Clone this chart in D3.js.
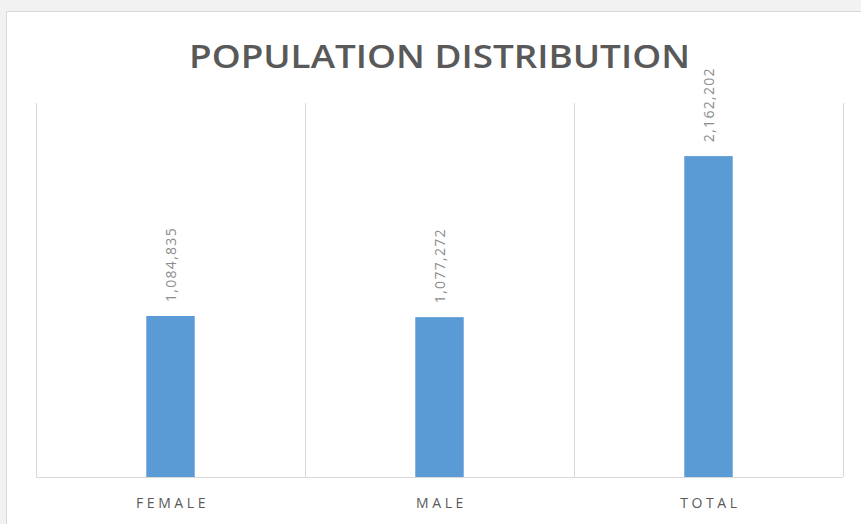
<!DOCTYPE html>
<html>
<head>
<meta charset="utf-8">
<script src="https://cdn.jsdelivr.net/npm/d3@7"></script>
<style>
  body { margin: 0; background: #f2f2f2; }
  svg { display: block; }
</style>
</head>
<body>
<svg width="861" height="524"></svg>
<script>
// data
const categories = ["FEMALE", "MALE", "TOTAL"];
const values = [1084835, 1077272, 2162202];
const title = "POPULATION DISTRIBUTION";

const svg = d3.select("svg");
const W = 861, H = 524;
const plot = { left: 36, right: 843, top: 106, bottom: 477 };

// chart panel
svg.append("rect")
    .attr("x", 6.5).attr("y", 11.5)
    .attr("width", W + 10).attr("height", H + 10)
    .attr("fill", "#fff")
    .attr("stroke", "#d9d9d9");

var x = d3.scaleBand()
    .domain(categories)
    .range([plot.left, plot.right])
    .paddingInner(0.82).paddingOuter(0.41);

var y = d3.scaleLinear()
    .domain([0, 2500000])
    .range([plot.bottom, plot.top]);

// vertical gridlines between categories
let bounds = categories.map(c => x(c) - x.step() * x.paddingInner() / 2);
bounds.push(plot.right);
bounds[0] = plot.left;
svg.selectAll("line.grid").data(bounds).enter()
    .append("line")
    .attr("class", "grid")
    .attr("x1", d => Math.round(d) + 0.5).attr("x2", d => Math.round(d) + 0.5)
    .attr("y1", 103).attr("y2", plot.bottom)
    .attr("stroke", "#d9d9d9");

// bars
svg.selectAll("rect.bar").data(values).enter()
    .append("rect")
    .attr("class", "bar")
    .attr("x", (d, i) => x(categories[i]))
    .attr("width", x.bandwidth())
    .attr("y", d => y(d))
    .attr("height", d => y(0) - y(d))
    .attr("fill", "#5b9bd5");

// baseline
svg.append("line")
    .attr("x1", plot.left).attr("x2", plot.right)
    .attr("y1", plot.bottom + 0.5).attr("y2", plot.bottom + 0.5)
    .attr("stroke", "#d9d9d9");

// value labels, rotated
const fmt = d3.format(",");
svg.selectAll("text.val").data(values).enter()
    .append("text")
    .attr("class", "val")
    .attr("transform", (d, i) => `translate(${x(categories[i]) + x.bandwidth() / 2 + 5},${y(d) - 14}) rotate(-90)`)
    .attr("font-family", "Open Sans, sans-serif")
    .attr("font-size", 14)
    .attr("letter-spacing", 1.3)
    .attr("fill", "#8c8c8c")
    .text(d => fmt(d));

// category labels
svg.selectAll("text.cat").data(categories).enter()
    .append("text")
    .attr("class", "cat")
    .attr("x", d => x(d) + x.bandwidth() / 2 + 2)
    .attr("y", 508)
    .attr("text-anchor", "middle")
    .attr("font-family", "Open Sans, sans-serif")
    .attr("font-size", 14)
    .attr("letter-spacing", 3.6)
    .attr("fill", "#595959")
    .text(d => d);

// title
svg.append("text")
    .attr("x", 189)
    .attr("y", 68)
    .attr("textLength", 501)
    .attr("lengthAdjust", "spacingAndGlyphs")
    .attr("font-family", "Open Sans, sans-serif")
    .attr("font-weight", 600)
    .attr("font-size", 32)
    .attr("fill", "#595959")
    .text(title);
</script>
</body>
</html>
